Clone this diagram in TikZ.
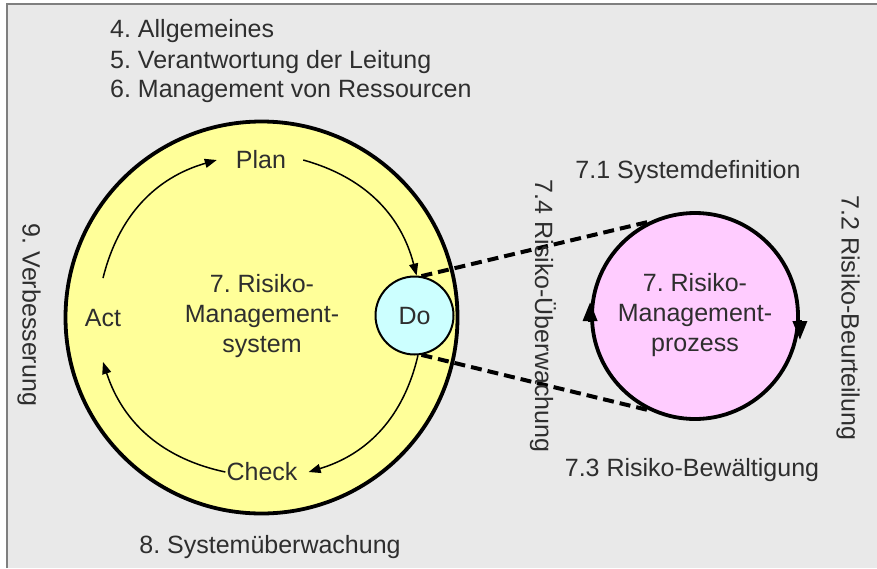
\documentclass[tikz,border=0pt]{standalone}
\usepackage{fontspec}
\setmainfont{Liberation Sans}
\usetikzlibrary{arrows.meta}
\frenchspacing
\definecolor{bg}{HTML}{E9E9E9}
\definecolor{framec}{HTML}{7F7F7F}
\definecolor{txt}{HTML}{2E2E2E}
\definecolor{yel}{HTML}{FFFF99}
\definecolor{cyanl}{HTML}{CCFFFF}
\definecolor{pinkl}{HTML}{FFCCFF}
\begin{document}
\begin{tikzpicture}[x=1pt,y=-1pt,
  lbl/.style={text=txt, font=\fontsize{25}{30}\selectfont, inner sep=0pt},
  cyc/.style={draw=black, line width=1.5pt, -{Triangle[length=12pt,width=9pt]}},
  dsh/.style={draw=black, line width=4pt, dash pattern=on 11pt off 6pt},
  big/.style={circle, draw=black, line width=3.8pt, inner sep=0pt},
  tip/.style={draw=black, line width=3.5pt, -{Triangle[length=19pt,width=14pt]}}]
\useasboundingbox (0,0) rectangle (877,568);
\fill[white] (0,0) rectangle (877,568);
\fill[bg] (7,4) rectangle (877,568);
\draw[framec, line width=2.5pt] (7,568) -- (7,4) -- (877,4);

% top texts
\node[lbl, anchor=west] (t4) at (110,31) {4. Allgemeines};
\node[lbl, anchor=west] (t5) at (110,62) {5. Verantwortung der Leitung};
\node[lbl, anchor=west] (t6) at (110,91) {6. Management von Ressourcen};

% main circle
\node[big, fill=yel, minimum size=392pt] (sys) at (261.5,317.5) {};
\node[lbl, align=center] (systxt) at (262,316) {7. Risiko-\\Management-\\system};

% PDCA labels
\node[lbl] (plan) at (261,160) {Plan};
\node[lbl] (act) at (103,318) {Act};
\node[lbl] (check) at (262,472) {Check};
\node[circle, draw=black, line width=2pt, fill=cyanl, minimum size=78pt, inner sep=0pt] (do) at (414.5,315.5) {};
\node[lbl] (dotxt) at (414.5,316) {Do};

% cycle arrows
\draw[cyc] ([yshift=31pt]act.north) to[bend left=30] ([xshift=-19pt]plan.west);
\draw[cyc] ([xshift=17pt]plan.east) to[bend left=30] (do.87);
\draw[cyc] (do.-85) to[bend left=30] ([xshift=11pt]check.east);
\draw[cyc] ([xshift=-1pt]check.west) to[bend left=30] ([yshift=-35pt]act.south);

% process circle
\node[big, fill=pinkl, minimum size=206pt] (proc) at (695,316) {};
\node[lbl, align=center] (proctxt) at (695,315) {7. Risiko-\\Management-\\prozess};
\draw[tip] ([yshift=-6pt]proc.west) -- ([yshift=14pt]proc.west);
\draw[tip] ([yshift=-4pt]proc.east) -- ([yshift=-24pt]proc.east);

% dashed connectors
\draw[dsh] (do.80) -- (proc.116);
\draw[dsh] (do.-80) -- (proc.-116);

% other labels
\node[lbl] (t71) at (688,172) {7.1 Systemdefinition};
\node[lbl] (t73) at (692,470) {7.3 Risiko-Bewältigung};
\node[lbl] (t8) at (270,547) {8. Systemüberwachung};
\node[lbl, rotate=-90] (t9) at (29,315) {9. Verbesserung};
\node[lbl, rotate=-90] (t74) at (543,316) {7.4 Risiko-Überwachung};
\node[lbl, rotate=-90] (t72) at (848,318) {7.2 Risiko-Beurteilung};
\end{tikzpicture}
\end{document}
